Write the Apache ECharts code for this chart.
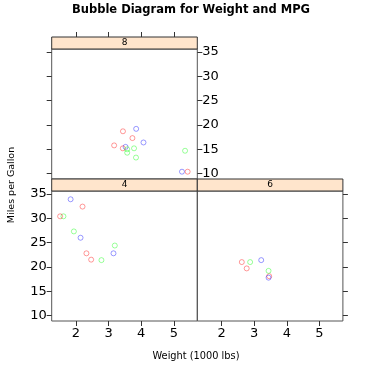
<!DOCTYPE html>
<html>
<head>
<meta charset="utf-8">
<script src="https://cdn.jsdelivr.net/npm/echarts@6/dist/echarts.min.js"></script>
<style>html,body{margin:0;padding:0;background:#fff}#c{width:367px;height:366px}</style>
</head>
<body>
<div id="c"></div>
<script>
// Panel labels (cylinders)
const panelLabels = ['4', '6', '8'];
// cyl = 4
const wt4  = [2.32, 3.19, 3.15, 2.2, 1.615, 1.835, 2.465, 1.935, 2.14, 1.513, 2.78];
const mpg4 = [22.8, 24.4, 22.8, 32.4, 30.4, 33.9, 21.5, 27.3, 26.0, 30.4, 21.4];
const grp4 = ['r','g','b','r','g','b','r','g','b','r','g'];
// cyl = 6
const wt6  = [2.62, 2.875, 3.215, 3.46, 3.44, 3.44, 2.77];
const mpg6 = [21.0, 21.0, 21.4, 18.1, 19.2, 17.8, 19.7];
const grp6 = ['r','g','b','r','g','b','r'];
// cyl = 8
const wt8  = [3.44, 3.57, 4.07, 3.73, 3.78, 5.25, 5.424, 5.345, 3.52, 3.435, 3.84, 3.845, 3.17, 3.57];
const mpg8 = [18.7, 14.3, 16.4, 17.3, 15.2, 10.4, 10.4, 14.7, 15.5, 15.2, 13.3, 19.2, 15.8, 15.0];
const grp8 = ['r','g','b','r','g','b','r','g','b','r','g','b','r','g'];
// tick labels
const xTicks = [2, 3, 4, 5];
const yTicks = [10, 15, 20, 25, 30, 35];

const colors = { r: 'rgba(255,0,0,0.5)', g: 'rgba(0,255,0,0.5)', b: 'rgba(0,0,255,0.5)' };
const X_MIN = 1.255, X_MAX = 5.72, Y_MIN = 8.9, Y_MAX = 35.6;
const FONT = 'DejaVu Sans';
const frame = '#555';

function pts(wt, mpg, grp) {
  return wt.map((w, i) => ({ value: [w, mpg[i]], itemStyle: { borderColor: colors[grp[i]] } }));
}

const gridW = 145.6, gridH = 130;
const grids = [
  { left: 51.7, top: 191, width: gridW, height: gridH },
  { left: 197.3, top: 191, width: gridW, height: gridH },
  { left: 51.7, top: 49, width: gridW, height: gridH }
].map(g => Object.assign({ show: true, borderColor: frame, borderWidth: 1, backgroundColor: 'transparent' }, g));

function xAx(gi, pos, labels, offset) {
  return {
    type: 'value', gridIndex: gi, position: pos, min: X_MIN, max: X_MAX, offset: offset || 0,
    splitLine: { show: false }, axisLine: { show: false },
    axisTick: { show: true, inside: false, length: 5, lineStyle: { color: '#333' }, customValues: xTicks },
    axisLabel: { show: labels, customValues: xTicks, fontFamily: FONT, fontSize: 13, color: '#000', margin: 6 }
  };
}
function yAx(gi, pos, labels) {
  return {
    type: 'value', gridIndex: gi, position: pos, min: Y_MIN, max: Y_MAX,
    splitLine: { show: false }, axisLine: { show: false },
    axisTick: { show: true, inside: false, length: 5, lineStyle: { color: '#333' }, customValues: yTicks },
    axisLabel: { show: labels, customValues: yTicks, fontFamily: FONT, fontSize: 13, color: '#000', margin: 5 }
  };
}

function strip(g, label) {
  return {
    type: 'group', children: [
      { type: 'rect', shape: { x: g.left, y: g.top - 12, width: g.width, height: 12 },
        style: { fill: '#ffe5cc', stroke: '#333', lineWidth: 1 } },
      { type: 'text', x: g.left + g.width / 2, y: g.top - 6,
        style: { text: label, fontFamily: FONT, fontSize: 9, fill: '#000', align: 'center', verticalAlign: 'middle' } }
    ]
  };
}

const series = [[wt4, mpg4, grp4, 0, 0], [wt6, mpg6, grp6, 1, 1], [wt8, mpg8, grp8, 2, 2]].map(s => ({
  type: 'scatter', xAxisIndex: s[3], yAxisIndex: s[4], symbol: 'circle', symbolSize: 5,
  itemStyle: { color: 'transparent', borderWidth: 1 }, data: pts(s[0], s[1], s[2]),
  emphasis: { disabled: true }, animation: false
}));

const chart = echarts.init(document.getElementById('c'));
chart.setOption({
  animation: false,
  grid: grids,
  xAxis: [xAx(0, 'bottom', true), xAx(1, 'bottom', true), xAx(2, 'top', false, 12)],
  yAxis: [yAx(0, 'left', true), yAx(1, 'right', false), yAx(2, 'right', true), yAx(2, 'left', false)],
  series: series,
  graphic: [
    strip(grids[0], panelLabels[0]),
    strip(grids[1], panelLabels[1]),
    strip(grids[2], panelLabels[2]),
    { type: 'text', x: 191, y: 10, style: { text: 'Bubble Diagram for Weight and MPG', fontFamily: FONT, fontWeight: 'bold', fontSize: 11.5, fill: '#000', align: 'center', verticalAlign: 'middle' } },
    { type: 'text', x: 196, y: 356, style: { text: 'Weight (1000 lbs)', fontFamily: FONT, fontSize: 9.8, fill: '#000', align: 'center', verticalAlign: 'middle' } },
    { type: 'text', x: 12, y: 185, rotation: Math.PI / 2, style: { text: 'Miles per Gallon', fontFamily: FONT, fontSize: 9.5, fill: '#000', align: 'center', verticalAlign: 'middle' } }
  ]
});
</script>
</body>
</html>
